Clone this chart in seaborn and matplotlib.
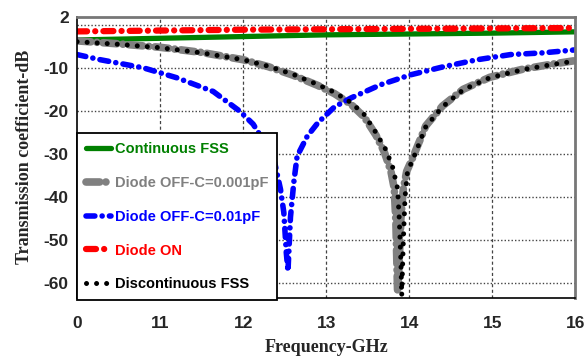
import numpy as np
import pandas as pd
import matplotlib
matplotlib.use("Agg")
import matplotlib.pyplot as plt
import seaborn as sns

# (x axis runs 10..16 GHz, first tick is labelled "0")
freq_green = [10.0, 11.0, 12.0, 13.0, 14.0, 15.0, 16.0]
db_green = [-3.4, -3.0, -2.6, -2.2, -2.0, -1.8, -1.5]

freq_red = [10.0, 11.0, 12.0, 13.0, 14.0, 15.0, 16.0]
db_red = [-1.4, -1.2, -1.0, -0.9, -0.8, -0.7, -0.6]

freq_black = [10.0, 10.5, 11.0, 11.5, 12.0, 12.3, 12.6, 12.9, 13.1, 13.3, 13.46, 13.6,
              13.72, 13.8, 13.86, 13.88, 13.9, 13.91, 13.93, 13.95, 13.98, 14.05, 14.2,
              14.4, 14.65, 14.97, 15.37, 15.7, 16.0]
db_black = [-3.8, -4.4, -5.2, -6.4, -8.0, -9.5, -11.4, -13.8, -15.6, -18.0, -20.8, -25.0,
            -29.0, -33.0, -38.0, -45.0, -55.0, -63.0, -50.0, -40.0, -34.0, -31.0, -23.6,
            -19.0, -15.0, -12.2, -10.3, -9.2, -8.3]

freq_gray = [10.0, 10.5, 11.0, 11.5, 12.0, 12.3, 12.6, 12.9, 13.1, 13.3, 13.46, 13.6,
             13.7, 13.78, 13.82, 13.84, 13.86, 13.88, 13.9, 13.93, 13.97, 14.05, 14.2,
             14.4, 14.65, 14.97, 15.37, 15.7, 16.0]
db_gray = [-3.6, -4.3, -5.1, -6.3, -8.0, -9.6, -11.6, -14.0, -15.9, -18.4, -21.4, -25.6,
           -29.5, -34.0, -38.0, -46.0, -62.0, -55.0, -45.0, -38.0, -34.0, -30.5, -23.4,
           -18.8, -14.9, -12.1, -10.2, -9.1, -8.2]

freq_blue = [10.0, 10.28, 10.8, 11.2, 11.64, 11.96, 12.12, 12.29, 12.38, 12.45, 12.49, 12.52,
             12.54, 12.57, 12.61, 12.65, 12.77, 12.9, 13.1, 13.3, 13.66, 14.02, 14.42,
             14.82, 15.22, 15.61, 16.0]
db_blue = [-6.8, -8.0, -9.9, -12.2, -15.4, -20.0, -23.0, -28.2, -32.0, -38.2, -43.6, -53.0,
           -57.3, -44.7, -36.6, -30.5, -25.9, -22.7, -19.0, -16.9, -13.8, -11.5, -9.6,
           -8.0, -6.8, -6.4, -5.7]

labels = ["Continuous FSS", "Diode OFF-C=0.001pF", "Diode OFF-C=0.01pF",
          "Diode ON", "Discontinuous FSS"]
x_ticks = [10, 11, 12, 13, 14, 15, 16]
x_tick_labels = ["0", "11", "12", "13", "14", "15", "16"]
y_ticks = [2, -10, -20, -30, -40, -50, -60]

sns.set_theme(style="white")
plt.rcParams["font.family"] = ["Liberation Sans", "DejaVu Sans"]
plt.rcParams["axes.unicode_minus"] = False

fig = plt.figure(figsize=(5.84, 3.58), dpi=100)
ax = fig.add_axes([0.132, 0.168, 0.853, 0.785])

# grid
for y in [0, -10, -20, -30, -40, -50, -60]:
    ax.axhline(y, color="#444444", lw=1.0, ls=(0, (1, 1.5)), zorder=0)
for x in [11, 12, 13, 14, 15]:
    ax.axvline(x, color="#444444", lw=0.9, ls=(0, (2.5, 2)), zorder=0)

series = [
    (freq_green, db_green, "#008000", 3.8, None),
    (freq_gray, db_gray, "#808080", 5.5, (1.8, 0.8, 0.01, 0.8)),
    (freq_blue, db_blue, "#0000ff", 4.0, (1.6, 1.3, 0.01, 1.3)),
    (freq_red, db_red, "#ff0000", 4.5, (1.6, 1.3, 0.01, 1.3)),
    (freq_black, db_black, "#000000", 3.6, (0.01, 2.0)),
]

for (fx, fy, col, lw, dash), lab in zip(series, labels):
    df = pd.DataFrame({"freq": fx, "db": fy})
    sns.lineplot(data=df, x="freq", y="db", ax=ax, color=col, lw=lw, label=lab,
                 sort=False, estimator=None)
    line = ax.lines[-1]
    line.set_solid_capstyle("round")
    if dash is not None:
        line.set_dashes(dash)
        line.set_dash_capstyle("round")

ax.set_xlim(10, 16)
ax.set_ylim(-63.5, 2)
ax.set_xticks(x_ticks)
ax.set_xticklabels(x_tick_labels)
ax.set_yticks(y_ticks)
ax.tick_params(axis="x", length=5, width=1.2, color="black", labelsize=12.5, pad=8)
ax.tick_params(axis="y", length=0, labelsize=12.5, pad=6)
for t in ax.get_xticklabels() + ax.get_yticklabels():
    t.set_fontweight("bold")

ax.set_xlabel("Frequency-GHz", fontsize=13, fontweight="bold",
              family="Liberation Serif", labelpad=6)
ax.set_ylabel("Transmission coefficient-dB", fontsize=13, fontweight="bold",
              family="Liberation Serif", labelpad=8)

for side in ["left", "bottom"]:
    ax.spines[side].set_color("black")
    ax.spines[side].set_linewidth(1.2)
for side in ["top", "right"]:
    ax.spines[side].set_color("#777777")
    ax.spines[side].set_linewidth(2.0)

leg = ax.legend(loc="lower left", bbox_to_anchor=(0.0, -0.008), borderaxespad=0,
                frameon=True, fancybox=False, handlelength=1.7, handletextpad=0.3,
                labelspacing=1.36, borderpad=0.6,
                prop={"family": ["Liberation Sans", "DejaVu Sans"],
                      "weight": "bold", "size": 10.5})
leg.get_frame().set_edgecolor("black")
leg.get_frame().set_linewidth(1.3)
leg.get_frame().set_alpha(1)
for text, line in zip(leg.get_texts(), leg.get_lines()):
    text.set_color(line.get_color())

fig.savefig("out.png", dpi=100)
